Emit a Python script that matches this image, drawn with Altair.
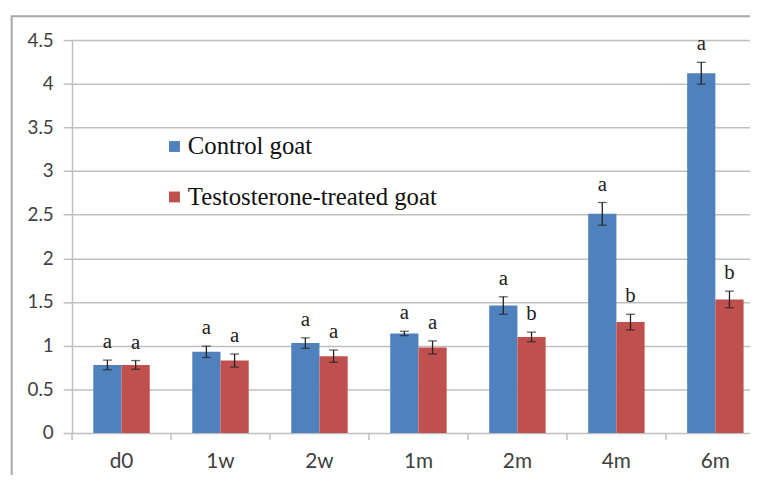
import altair as alt
import pandas as pd

cats = ["d0", "1w", "2w", "1m", "2m", "4m", "6m"]
groups = ["Control goat", "Testosterone-treated goat"]
control = [0.78, 0.93, 1.03, 1.14, 1.46, 2.51, 4.12]
control_se = [0.055, 0.065, 0.06, 0.025, 0.10, 0.13, 0.125]
treated = [0.78, 0.83, 0.88, 0.98, 1.10, 1.27, 1.53]
treated_se = [0.05, 0.075, 0.07, 0.075, 0.055, 0.09, 0.095]
control_letters = ["a", "a", "a", "a", "a", "a", "a"]
treated_letters = ["a", "a", "a", "a", "b", "b", "b"]
colors = ["#4F81BD", "#C0504D"]
y_ticks = [0, 0.5, 1, 1.5, 2, 2.5, 3, 3.5, 4, 4.5]

rows = []
for i, c in enumerate(cats):
    for g, v, s, l in [(groups[0], control[i], control_se[i], control_letters[i]),
                       (groups[1], treated[i], treated_se[i], treated_letters[i])]:
        rows.append({"cat": c, "group": g, "value": v, "lo": v - s, "hi": v + s, "letter": l})
df = pd.DataFrame(rows)

W, H = 685, 397

xenc = alt.X("cat:N", sort=cats, title=None,
             scale=alt.Scale(range=[0, 700], paddingInner=0, paddingOuter=0),
             axis=alt.Axis(ticks=False, domain=False, labelAngle=0, labelFont="Lato",
                           labelFontSize=21, labelColor="#404040", labelPadding=18))
xoff = alt.XOffset("group:N", sort=groups,
                   scale=alt.Scale(paddingInner=0, paddingOuter=0.754))

base = alt.Chart(df).encode(x=xenc, xOffset=xoff)

bars = base.mark_bar().encode(
    y=alt.Y("value:Q", title=None,
            scale=alt.Scale(domain=[0, 4.5], nice=False),
            axis=alt.Axis(values=y_ticks, format="~g", labelFont="Lato", labelFontSize=19,
                          labelColor="#404040", tickColor="#BFBFBF", tickSize=9,
                          domainColor="#BFBFBF", domainWidth=1.5, gridColor="#BFBFBF",
                          gridWidth=1.5, tickWidth=1.5, labelPadding=10)),
    color=alt.Color("group:N", sort=groups,
                    scale=alt.Scale(domain=groups, range=colors),
                    legend=alt.Legend(title=None, orient="none", legendX=91, legendY=95,
                                      symbolType="square", symbolSize=121,
                                      symbolStrokeWidth=0, labelFont="Liberation Serif",
                                      labelFontSize=25, labelColor="#111111",
                                      labelLimit=400, rowPadding=25, labelOffset=1)),
)

err = base.mark_rule(color="#222222", strokeWidth=1.3).encode(y="lo:Q", y2="hi:Q")
cap_hi = base.mark_tick(color="#222222", size=9, thickness=1.3).encode(y="hi:Q")
cap_lo = base.mark_tick(color="#222222", size=9, thickness=1.3).encode(y="lo:Q")
letters = base.mark_text(font="Liberation Serif", fontSize=21, baseline="bottom",
                         dy=-8, color="#222222").encode(y="hi:Q", text="letter:N")

tickdf = pd.DataFrame({"cat": cats})
xticks = alt.Chart(tickdf).mark_rule(color="#BFBFBF", strokeWidth=1.5).encode(
    x=alt.X("cat:N", sort=cats, bandPosition=0),
    y=alt.value(H), y2=alt.value(H + 7))

frame = alt.Chart(pd.DataFrame({"f": [0]})).mark_rect(
    fill="transparent", stroke="#A6A6A6", strokeWidth=2).encode(
    x=alt.value(-61), y=alt.value(-24), x2=alt.value(900), y2=alt.value(700))

chart = alt.layer(frame, bars, err, cap_hi, cap_lo, letters, xticks).properties(
    width=W, height=H, autosize="none",
    padding={"left": 64.7, "top": 30, "right": 0, "bottom": 40},
).configure_view(strokeWidth=0).configure(background="white")

chart.save("out.html", embed_options={"renderer": "svg", "actions": False})
